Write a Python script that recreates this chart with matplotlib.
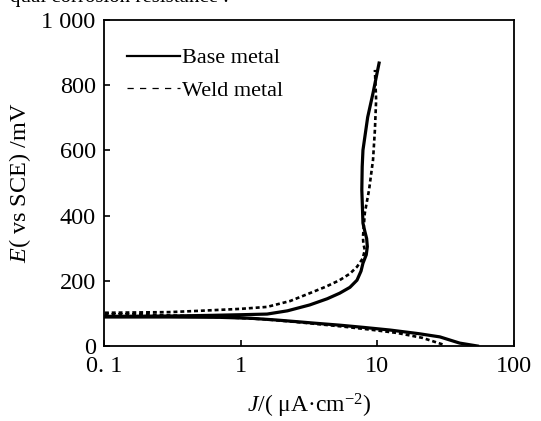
import matplotlib
matplotlib.use('Agg')
import matplotlib.pyplot as plt
from matplotlib.lines import Line2D
from matplotlib.ticker import FixedLocator, FixedFormatter

plt.rcParams['font.family'] = ['Liberation Serif', 'DejaVu Serif']
plt.rcParams['mathtext.fontset'] = 'custom'
plt.rcParams['mathtext.rm'] = 'Liberation Serif'
plt.rcParams['mathtext.it'] = 'Liberation Serif:italic'

# base metal: cathodic branch (high J -> Ecorr), then anodic branch
base_J = [54, 40, 28.7, 20, 12.4, 8.0, 5.3, 3.5, 2.7, 1.8, 1.2, 0.7, 0.3, 0.1,
          0.1, 0.3, 0.6, 1.0, 1.56, 2.2, 3.2, 4.3, 5.3, 6.3, 7.1, 7.6, 7.85,
          8.3, 8.45, 8.35, 8.1, 7.85, 7.7, 7.75, 7.85, 8.5, 9.3, 10.3]
base_E = [0, 9, 28, 38, 49, 57, 64, 70, 74, 80, 85, 88, 89, 89,
          91, 92, 94, 96, 98, 108, 126, 145, 162, 180, 202, 230, 254,
          280, 305, 330, 352, 377, 479, 550, 601, 702, 776, 868]

# weld metal
weld_J = [30, 21.4, 14, 9.0, 5.5, 3.5, 2.5, 1.5, 0.8, 0.3, 0.1,
          0.1, 0.3, 0.5, 1.0, 1.56, 2.3, 3.2, 4.2, 5.3, 6.3, 7.1, 7.8, 8.1,
          7.9, 7.85, 8.1, 8.7, 9.3, 9.6, 9.8, 9.6]
weld_E = [5, 25, 40, 50, 60, 68, 74, 82, 88, 94, 98,
          102, 104, 108, 114, 120, 138, 162, 182, 202, 222, 243, 268, 294,
          315, 334, 408, 479, 571, 663, 755, 847]

x_ticks = [0.1, 1, 10, 100]
x_labels = ['0. 1', '1', '10', '100']
y_ticks = [0, 200, 400, 600, 800, 1000]
y_labels = ['0', '200', '400', '600', '800', '1 000']


def main():
    fig = plt.figure(figsize=(5.41, 4.21), dpi=100)
    ax = fig.add_axes([0.1922, 0.1781, 0.7579, 0.7743])

    ax.plot(base_J, base_E, color='black', lw=2.3, solid_joinstyle='round')
    ax.plot(weld_J, weld_E, color='black', lw=1.9, dashes=(1.5, 1.1))

    ax.set_xscale('log')
    ax.set_xlim(0.1, 100)
    ax.set_ylim(0, 1000)
    ax.xaxis.set_major_locator(FixedLocator(x_ticks))
    ax.xaxis.set_major_formatter(FixedFormatter(x_labels))
    ax.xaxis.set_minor_locator(FixedLocator([]))
    ax.yaxis.set_major_locator(FixedLocator(y_ticks))
    ax.yaxis.set_major_formatter(FixedFormatter(y_labels))
    ax.tick_params(direction='in', length=4, width=1.2, labelsize=17.5)
    ax.tick_params(axis='x', pad=7)
    ax.tick_params(axis='y', pad=6)
    for s in ax.spines.values():
        s.set_linewidth(1.3)

    ax.set_xlabel('$J$/( \u03bcA\u00b7cm$^{-2}$)', fontsize=17, labelpad=11)
    ax.set_ylabel('$E$( vs SCE) /mV', fontsize=17.5, labelpad=6)

    handles = [Line2D([], [], color='black', lw=1.6),
               Line2D([], [], color='black', lw=0.9, dashes=(5, 5))]
    ax.legend(handles, ['Base metal', 'Weld metal'], loc='upper left',
              bbox_to_anchor=(0.055, 0.915), frameon=False, fontsize=16,
              handlelength=2.4, handletextpad=0.1, labelspacing=0.55,
              borderpad=0, borderaxespad=0)

    # clipped line of body text at the very top of the scan
    fig.text(10 / 541, 1 - 2 / 421, 'qual corrosion resistance .',
             fontsize=15, va='baseline', ha='left')

    fig.savefig('out.png', dpi=100)


if __name__ == '__main__':
    main()
